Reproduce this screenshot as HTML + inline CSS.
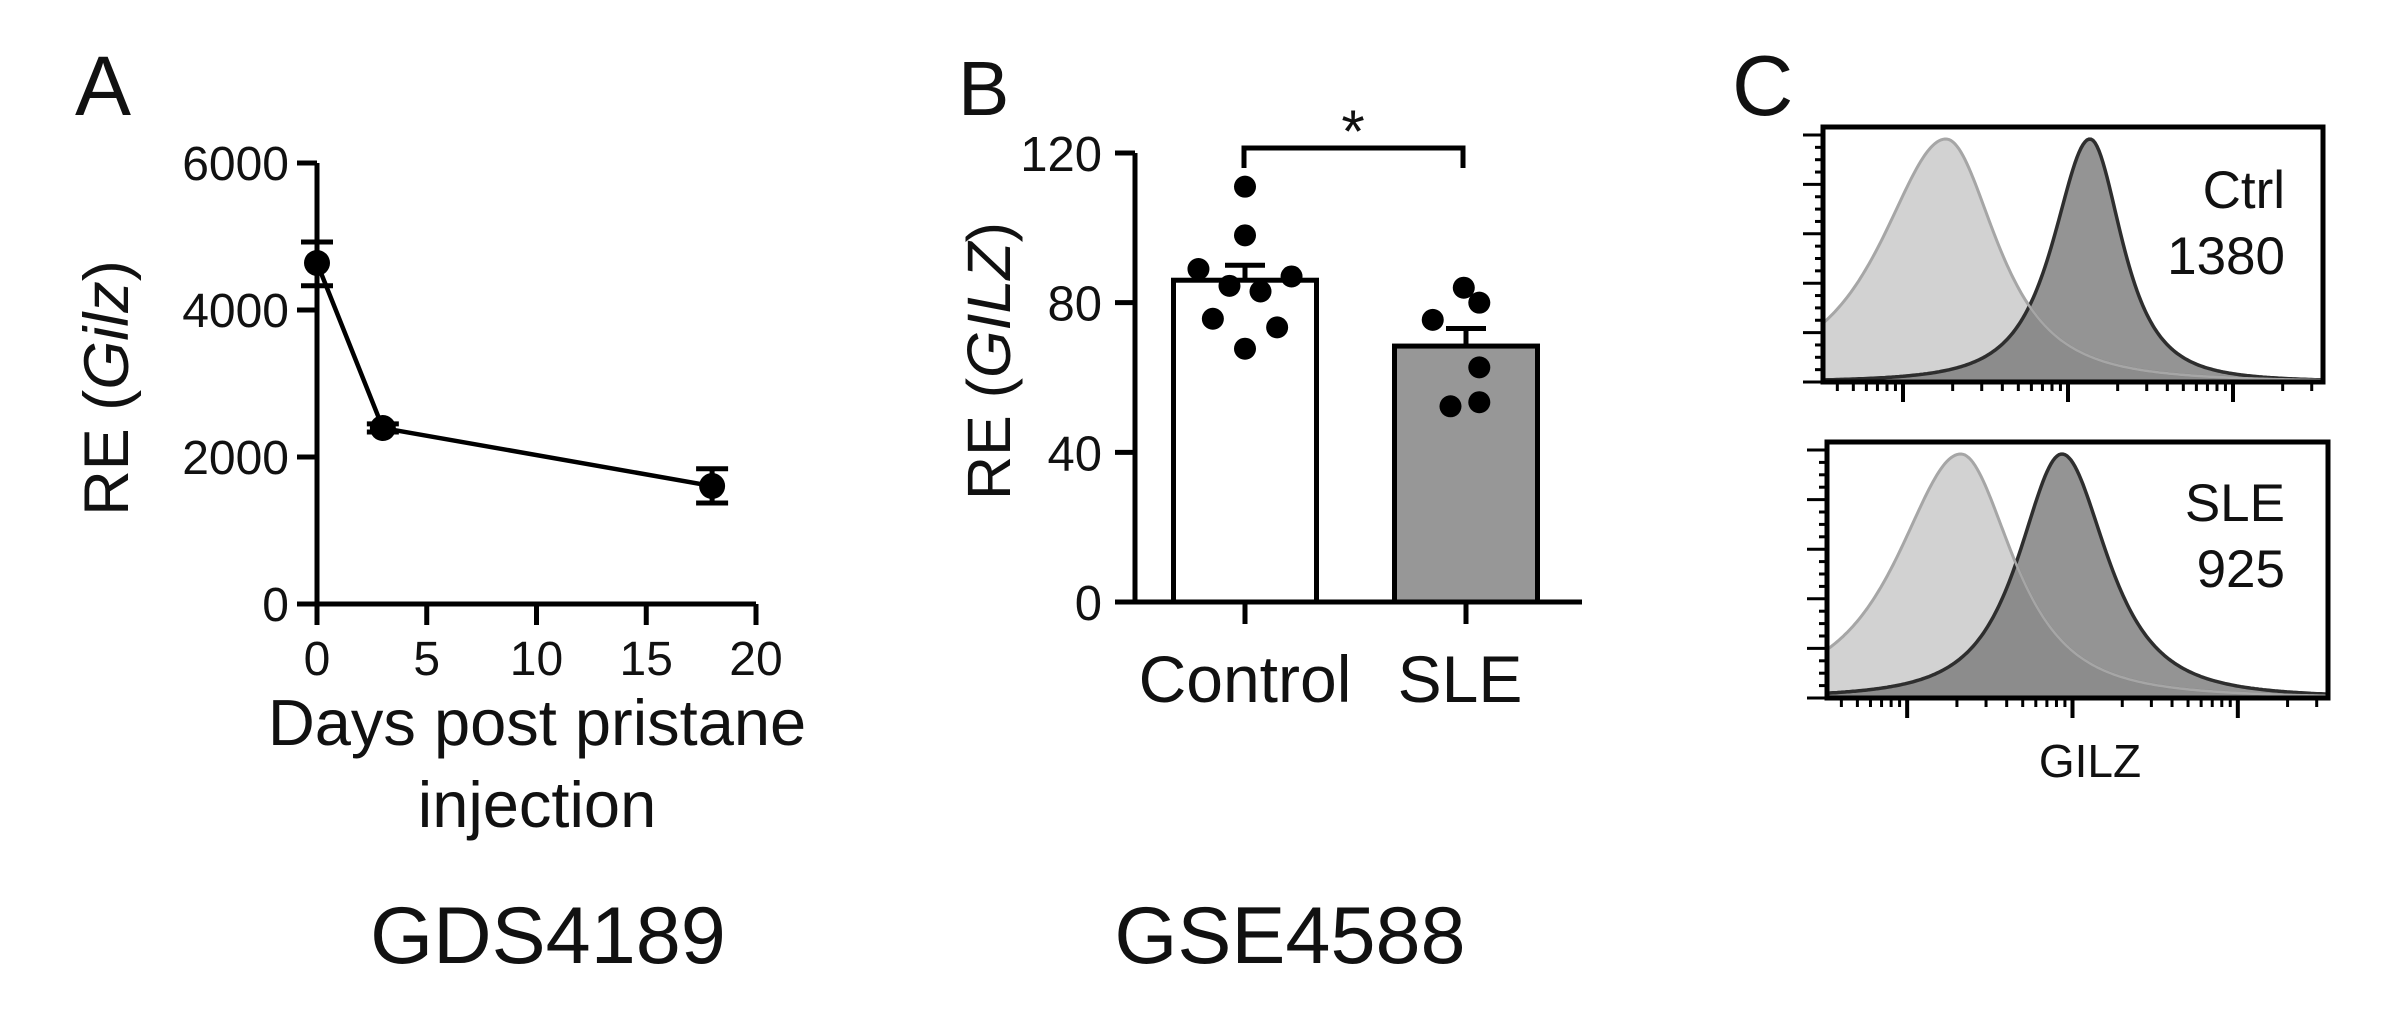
<!DOCTYPE html>
<html><head><meta charset="utf-8">
<style>
html,body{margin:0;padding:0;background:#fff;}
svg{display:block;}
text{font-family:"Liberation Sans",Arial,sans-serif;fill:#111;}
</style></head>
<body>
<svg id="fig" width="2385" height="1033" viewBox="0 0 2385 1033" xmlns="http://www.w3.org/2000/svg">
<g id="panelA"></g>
<g id="panelB"></g>
<g id="panelC"></g>
</svg>
<script>
// ---- Panel A data ----
const daysA = [0, 3, 18];
const meanA = [4640, 2394, 1605];
const errHiA = [4925, 2450, 1840];
const errLoA = [4330, 2340, 1375];
const yTicksA = [0, 2000, 4000, 6000];
const xTicksA = [0, 5, 10, 15, 20];

// ---- Panel B data ----
const catsB = ["Control", "SLE"];
const meansB = [86, 68.4];
const semB = [4, 4.7];
const ptsControl = [111, 98, 89, 87, 84.5, 83, 75.7, 73.4, 67.7];
const ptsSLE = [84, 80, 75.4, 62.7, 52.3, 53.4];
const jitterControl = [0, 0, -0.21, 0.21, -0.07, 0.07, -0.145, 0.145, 0];
const jitterSLE = [-0.01, 0.06, -0.15, 0.06, -0.07, 0.06];
const yTicksB = [0, 40, 80, 120];

// ---- Panel C data ----
const histLabels = [["Ctrl", "1380"], ["SLE", "925"]];
const isoPeak = [0.246, 0.267];
const gilzPeak = [0.534, 0.469];

const NS = "http://www.w3.org/2000/svg";
function el(parent, tag, attrs, txt) {
  const e = document.createElementNS(NS, tag);
  for (const k in attrs) e.setAttribute(k, attrs[k]);
  if (txt !== undefined) e.textContent = txt;
  parent.appendChild(e);
  return e;
}

// ===== Panel A =====
(function(){
  const g = document.getElementById("panelA");
  const x0 = 317, xMax = 20, pxPerDay = 21.95;
  const yBase = 604, pxPerUnit = (604 - 163) / 6000;
  const X = d => x0 + d * pxPerDay;
  const Y = v => yBase - v * pxPerUnit;
  let t = el(g, "text", {x: 75, y: 115, "font-size": 84}, "A");
  
  
  let ax = el(g, "path", {d: `M${X(0)},${Y(6000)} L${X(0)},${yBase} L${X(xMax)},${yBase}`, fill: "none", stroke: "#000", "stroke-width": 5});
  
  
  yTicksA.forEach(v => {
    const tk = el(g, "line", {x1: X(0) - 20, x2: X(0), y1: Y(v), y2: Y(v), stroke: "#000", "stroke-width": 5});
    
    
    const lb = el(g, "text", {x: 289, y: Y(v) + 17, "font-size": 48, "text-anchor": "end"}, String(v));
    
    
  });
  xTicksA.forEach(v => {
    const tk = el(g, "line", {x1: X(v), x2: X(v), y1: yBase, y2: yBase + 21, stroke: "#000", "stroke-width": 5});
    
    
    const lb = el(g, "text", {x: X(v), y: 675, "font-size": 48, "text-anchor": "middle"}, String(v));
    
    
  });
  const yl = el(g, "text", {transform: "translate(128,388) rotate(-90)", "font-size": 63, "text-anchor": "middle"});
  
  
  el(yl, "tspan", {}, "RE (");
  el(yl, "tspan", {"font-style": "italic"}, "Gilz");
  el(yl, "tspan", {}, ")");
  const xl1 = el(g, "text", {x: 537, y: 745, "font-size": 65, "text-anchor": "middle"}, "Days post pristane");
  
  
  const xl2 = el(g, "text", {x: 537, y: 827, "font-size": 65, "text-anchor": "middle"}, "injection");
  
  
  const pts = daysA.map((d, i) => `${X(d)},${Y(meanA[i])}`).join(" ");
  const ln = el(g, "polyline", {points: pts, fill: "none", stroke: "#000", "stroke-width": 4.5});
  
  
  daysA.forEach((d, i) => {
    const eb = el(g, "path", {d: `M${X(d)},${Y(errHiA[i])} L${X(d)},${Y(errLoA[i])} M${X(d)-16},${Y(errHiA[i])} h32 M${X(d)-16},${Y(errLoA[i])} h32`, stroke: "#000", "stroke-width": 5, fill: "none"});
    
    
    const c = el(g, "circle", {cx: X(d), cy: Y(meanA[i]), r: 13, fill: "#000"});
    
    
  });
  const cap = el(g, "text", {x: 548, y: 963, "font-size": 81, "text-anchor": "middle"}, "GDS4189");
  
  
})();

// ===== Panel B =====
(function(){
  const g = document.getElementById("panelB");
  const yAx = 1135, yBase = 602, pxPer = (602 - 153) / 120;
  const Y = v => yBase - v * pxPer;
  const catX = [1245, 1466], barW = 143;
  let t = el(g, "text", {x: 958, y: 115, "font-size": 77}, "B");
  
  
  const fills = ["#ffffff", "#979797"];
  catsB.forEach((c, i) => {
    const b = el(g, "rect", {x: catX[i] - barW/2, y: Y(meansB[i]), width: barW, height: yBase - Y(meansB[i]), fill: fills[i], stroke: "#000", "stroke-width": 5});
    
    
    const top = Y(meansB[i] + semB[i]);
    const eb = el(g, "path", {d: `M${catX[i]},${Y(meansB[i])} L${catX[i]},${top} M${catX[i]-20},${top} h40`, stroke: "#000", "stroke-width": 5, fill: "none"});
    
    
    const tk = el(g, "line", {x1: catX[i], x2: catX[i], y1: yBase, y2: yBase + 22, stroke: "#000", "stroke-width": 5});
    
    
    const lb = el(g, "text", {x: catX[i] - (i === 1 ? 6 : 0), y: 702, "font-size": 66, "text-anchor": "middle"}, c);
    
    
  });
  const ax = el(g, "path", {d: `M${yAx},${Y(120)} L${yAx},${yBase} L1582,${yBase}`, fill: "none", stroke: "#000", "stroke-width": 5});
  
  
  yTicksB.forEach(v => {
    const tk = el(g, "line", {x1: yAx - 20, x2: yAx, y1: Y(v), y2: Y(v), stroke: "#000", "stroke-width": 5});
    
    
    const lb = el(g, "text", {x: 1102, y: Y(v) + 18, "font-size": 49, "text-anchor": "end"}, String(v));
    
    
  });
  const groups = [[ptsControl, jitterControl], [ptsSLE, jitterSLE]];
  groups.forEach(([vals, jit], i) => {
    vals.forEach((v, j) => {
      const c = el(g, "circle", {cx: catX[i] + jit[j] * barW * 1.55, cy: Y(v), r: 11, fill: "#000"});
      
      
    });
  });
  const yl = el(g, "text", {transform: "translate(1010,361) rotate(-90)", "font-size": 61, "text-anchor": "middle"});
  
  
  el(yl, "tspan", {}, "RE (");
  el(yl, "tspan", {"font-style": "italic"}, "GILZ");
  el(yl, "tspan", {}, ")");
  const br = el(g, "path", {d: `M1244,168 L1244,148 L1463,148 L1463,168`, fill: "none", stroke: "#000", "stroke-width": 5});
  
  
  const st = el(g, "text", {x: 1353, y: 152, "font-size": 60, "text-anchor": "middle"}, "*");
  
  
  const cap = el(g, "text", {x: 1290, y: 963, "font-size": 81, "text-anchor": "middle"}, "GSE4588");
  
  
})();

// ===== Panel C =====
(function(){
  const g = document.getElementById("panelC");
  let t = el(g, "text", {x: 1732, y: 115, "font-size": 85}, "C");
  
  
  const boxes = [{x: 1823, y: 127, w: 500, h: 255}, {x: 1827, y: 442, w: 501, h: 256}];
  const shapes = [
    {iso: [98, 77], gz: [56, 49]},
    {iso: [96, 79], gz: [66, 69]}
  ];
  function curve(b, peakRel, wL, wR, H) {
    const c = b.x + peakRel * b.w;
    let d = `M${b.x},${b.y + b.h}`;
    for (let x = b.x; x <= b.x + b.w; x += 2) {
      const dx = x - c;
      const w = dx < 0 ? wL : wR;
      const r = 1 / Math.pow(1 + (dx / w) * (dx / w), 1.5);
      d += ` L${x},${(b.y + b.h - H * r).toFixed(1)}`;
    }
    d += ` L${b.x + b.w},${b.y + b.h} Z`;
    return d;
  }
  boxes.forEach((b, i) => {
    const H = b.h - 12;
    const cp = el(g, "clipPath", {id: "clip" + i});
    el(cp, "rect", {x: b.x, y: b.y, width: b.w, height: b.h});
    const gg = el(g, "g", {"clip-path": `url(#clip${i})`});
    
    
    const iso = el(gg, "path", {d: curve(b, isoPeak[i], shapes[i].iso[0], shapes[i].iso[1], H), fill: "#d2d2d2", stroke: "#a6a6a6", "stroke-width": 3});
    
    
    const gz = el(gg, "path", {d: curve(b, gilzPeak[i], shapes[i].gz[0], shapes[i].gz[1], H), fill: "#7d7d7d", "fill-opacity": 0.82, stroke: "#2e2e2e", "stroke-width": 3.5});
    
    
    const isoLine = el(gg, "path", {d: curve(b, isoPeak[i], shapes[i].iso[0], shapes[i].iso[1], H), fill: "none", stroke: "#a6a6a6", "stroke-width": 2.5});
    
    
    const rc = el(g, "rect", {x: b.x, y: b.y, width: b.w, height: b.h, fill: "none", stroke: "#000", "stroke-width": 5});
    
    
    for (let k = 0; k <= 5; k++) {
      const yy = b.y + b.h - k * (b.h - 8) / 5;
      const tk = el(g, "line", {x1: b.x - 20, x2: b.x, y1: yy, y2: yy, stroke: "#000", "stroke-width": 3});
      
      
      for (let m = 1; m < 4 && k < 5; m++) {
        const ym = yy - m * (b.h - 8) / 20;
        const mt = el(g, "line", {x1: b.x - 8, x2: b.x, y1: ym, y2: ym, stroke: "#000", "stroke-width": 3});
        
        
      }
    }
    const majors = [0.16, 0.49, 0.82];
    majors.forEach(m => {
      const xx = b.x + m * b.w;
      const tk = el(g, "line", {x1: xx, x2: xx, y1: b.y + b.h, y2: b.y + b.h + 20, stroke: "#000", "stroke-width": 4});
      
      
    });
    for (let dec = -1; dec < 3; dec++) {
      for (let n = 2; n <= 9; n++) {
        const xx = b.x + (0.16 + dec * 0.33 + 0.33 * Math.log10(n)) * b.w;
        if (xx < b.x + 4 || xx > b.x + b.w) continue;
        const mt = el(g, "line", {x1: xx, x2: xx, y1: b.y + b.h, y2: b.y + b.h + 9, stroke: "#000", "stroke-width": 3});
        
        
      }
    }
    const l1 = el(g, "text", {x: 2285, y: i === 0 ? 208 : 521, "font-size": 53, "text-anchor": "end", fill: "#222"}, histLabels[i][0]);
    
    
    const l2 = el(g, "text", {x: 2285, y: i === 0 ? 274 : 587, "font-size": 53, "text-anchor": "end", fill: "#222"}, histLabels[i][1]);
    
    
  });
  const xl = el(g, "text", {x: 2090, y: 777, "font-size": 46, "text-anchor": "middle", fill: "#222"}, "GILZ");
  
  
})();
</script>
</body></html>
